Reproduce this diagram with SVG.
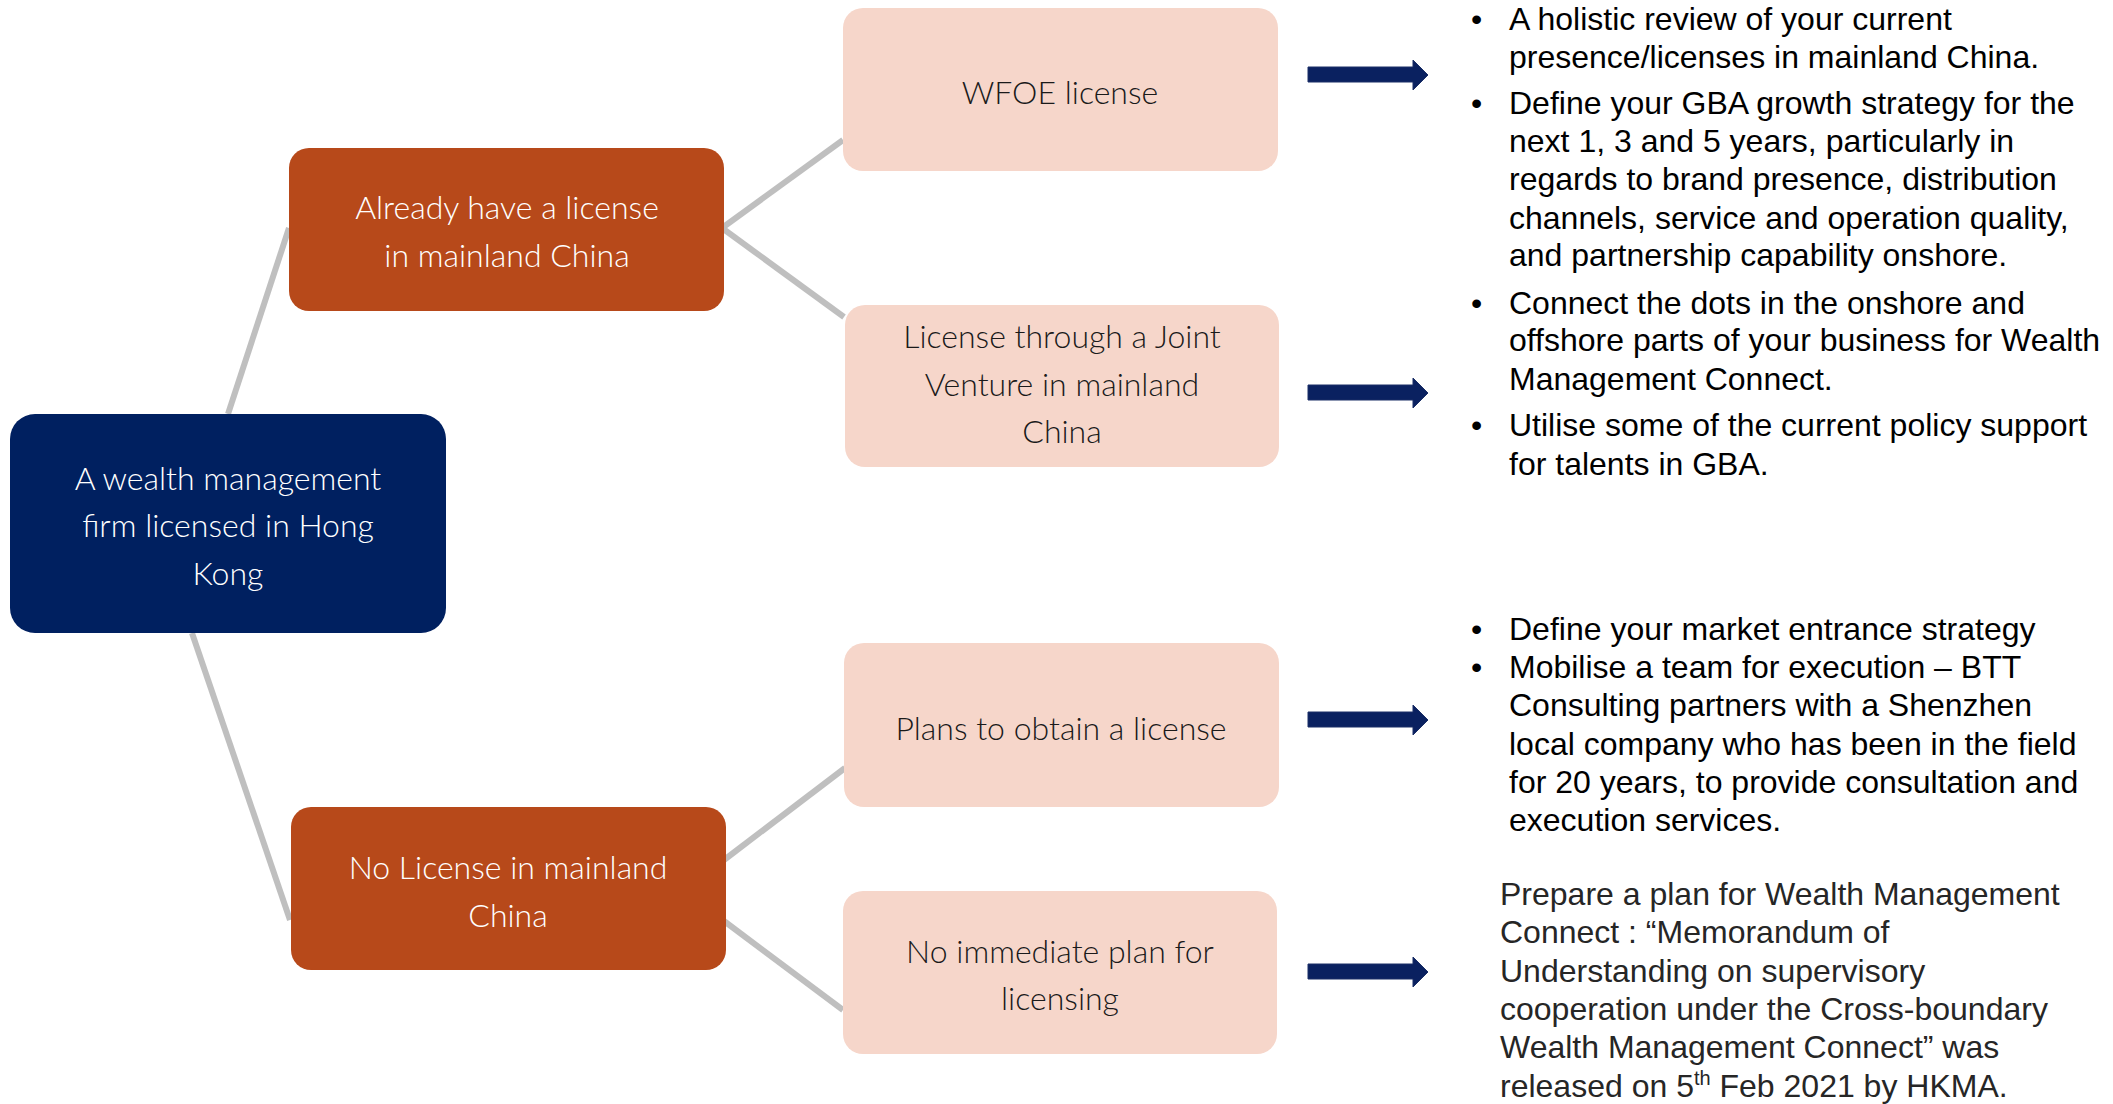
<svg xmlns="http://www.w3.org/2000/svg" width="2113" height="1104" viewBox="0 0 2113 1104">
  <style>
    .root { fill: #002060; }
    .branch { fill: #B7491A; }
    .leaf { fill: #F6D6CA; }
    .ntext { font-family: Lato, "Noto Sans", sans-serif; font-weight: 300; font-size: 32px; text-anchor: middle; }
    .light { fill: #FFFFFF; }
    .dark { fill: #1A1A1A; }
    .link { stroke: #BFBFBF; stroke-width: 6; fill: none; }
    .arrow { fill: #0A2160; stroke: #1B2F66; stroke-width: 1; }
    .body { font-family: "Liberation Sans", Arial, sans-serif; font-size: 32px; fill: #000000; }
    .note { font-family: "Liberation Sans", Arial, sans-serif; font-size: 32px; fill: #262626; }
  </style>
  <defs>
    <path id="blockArrow" d="M0,7 H105 V0 L120,15 L105,30 V22 H0 Z"/>
  </defs>

  <rect width="2113" height="1104" fill="#FFFFFF"/>

  <!-- tree connectors -->
  <g id="connectors">
    <line class="link" x1="228" y1="414" x2="289" y2="228"/>
    <line class="link" x1="192" y1="633" x2="290" y2="920"/>
    <line class="link" x1="722" y1="228" x2="843" y2="140"/>
    <line class="link" x1="722" y1="228" x2="844" y2="317"/>
    <line class="link" x1="724" y1="860" x2="845" y2="768"/>
    <line class="link" x1="724" y1="921" x2="843" y2="1010"/>
  </g>

  <!-- root node -->
  <g id="node-root">
    <rect class="root" x="10" y="414" width="436" height="219" rx="25"/>
    <text class="ntext light" x="228" y="490">A wealth management</text>
    <text class="ntext light" x="228" y="537">firm licensed in Hong</text>
    <text class="ntext light" x="228" y="585">Kong</text>
  </g>

  <!-- second level -->
  <g id="node-has-license">
    <rect class="branch" x="289" y="148" width="435" height="163" rx="20"/>
    <text class="ntext light" x="507" y="219">Already have a license</text>
    <text class="ntext light" x="507" y="267">in mainland China</text>
  </g>
  <g id="node-no-license">
    <rect class="branch" x="291" y="807" width="435" height="163" rx="20"/>
    <text class="ntext light" x="508" y="879">No License in mainland</text>
    <text class="ntext light" x="508" y="927">China</text>
  </g>

  <!-- third level -->
  <g id="node-wfoe">
    <rect class="leaf" x="843" y="8" width="435" height="163" rx="20"/>
    <text class="ntext dark" x="1060" y="104">WFOE license</text>
  </g>
  <g id="node-jv">
    <rect class="leaf" x="845" y="305" width="434" height="162" rx="20"/>
    <text class="ntext dark" x="1062" y="348">License through a Joint</text>
    <text class="ntext dark" x="1062" y="396">Venture in mainland</text>
    <text class="ntext dark" x="1062" y="443">China</text>
  </g>
  <g id="node-plans">
    <rect class="leaf" x="844" y="643" width="435" height="164" rx="20"/>
    <text class="ntext dark" x="1061" y="740">Plans to obtain a license</text>
  </g>
  <g id="node-no-plan">
    <rect class="leaf" x="843" y="891" width="434" height="163" rx="20"/>
    <text class="ntext dark" x="1060" y="963">No immediate plan for</text>
    <text class="ntext dark" x="1060" y="1010">licensing</text>
  </g>

  <!-- block arrows toward the advice text -->
  <g id="arrows">
    <use href="#blockArrow" class="arrow" transform="translate(1308,60)"/>
    <use href="#blockArrow" class="arrow" transform="translate(1308,378)"/>
    <use href="#blockArrow" class="arrow" transform="translate(1308,705)"/>
    <use href="#blockArrow" class="arrow" transform="translate(1308,957)"/>
  </g>

  <!-- advice for firms already licensed -->
  <g id="advice-licensed" class="body">
    <text x="1471" y="30">•</text>
    <text x="1509" y="30">A holistic review of your current</text>
    <text x="1509" y="68">presence/licenses in mainland China.</text>
    <text x="1471" y="114">•</text>
    <text x="1509" y="114">Define your GBA growth strategy for the</text>
    <text x="1509" y="152">next 1, 3 and 5 years, particularly in</text>
    <text x="1509" y="190">regards to brand presence, distribution</text>
    <text x="1509" y="229">channels, service and operation quality,</text>
    <text x="1509" y="266">and partnership capability onshore.</text>
    <text x="1471" y="314">•</text>
    <text x="1509" y="314">Connect the dots in the onshore and</text>
    <text x="1509" y="351">offshore parts of your business for Wealth</text>
    <text x="1509" y="390">Management Connect.</text>
    <text x="1471" y="436">•</text>
    <text x="1509" y="436">Utilise some of the current policy support</text>
    <text x="1509" y="475">for talents in GBA.</text>
  </g>

  <!-- advice for firms planning a license -->
  <g id="advice-planning" class="body">
    <text x="1471" y="640">•</text>
    <text x="1509" y="640">Define your market entrance strategy</text>
    <text x="1471" y="678">•</text>
    <text x="1509" y="678">Mobilise a team for execution – BTT</text>
    <text x="1509" y="716">Consulting partners with a Shenzhen</text>
    <text x="1509" y="755">local company who has been in the field</text>
    <text x="1509" y="793">for 20 years, to provide consultation and</text>
    <text x="1509" y="831">execution services.</text>
  </g>

  <!-- note for firms without a plan -->
  <g id="advice-no-plan" class="note">
    <text x="1500" y="905">Prepare a plan for Wealth Management</text>
    <text x="1500" y="943">Connect : “Memorandum of</text>
    <text x="1500" y="982">Understanding on supervisory</text>
    <text x="1500" y="1020">cooperation under the Cross-boundary</text>
    <text x="1500" y="1058">Wealth Management Connect” was</text>
    <text x="1500" y="1097">released on 5<tspan font-size="20px" dy="-12">th</tspan><tspan dy="12"> Feb 2021 by HKMA.</tspan></text>
  </g>
</svg>
